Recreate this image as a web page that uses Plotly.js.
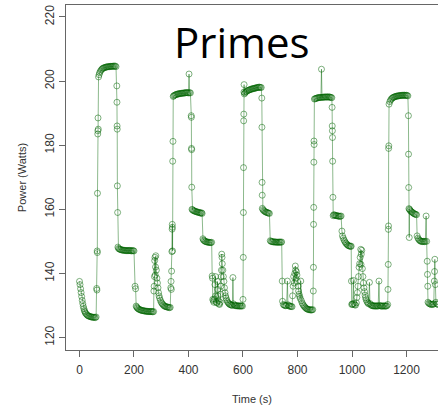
<!DOCTYPE html>
<html>
<head>
<meta charset="utf-8">
<script src="https://cdn.plot.ly/plotly-3.0.1.min.js"></script>
<style>html,body{margin:0;padding:0;background:#fff;}#chart{width:438px;height:405px;}</style>
</head>
<body>
<div id="chart"></div>
<script>
// [time (s), power (W)] samples, grouped by phase
const idleStart = [[0,137.5],[2,136.5],[4,135.2],[6,134],[8,132.8],[10,131.6],[12,130.6],[14,129.7],[16,129],[18,128.4],[20,128],[22,127.6],[25,127.3],[28,127],[31,126.8],[34,126.7],[37,126.6],[40,126.5],[43,126.4],[46,126.4],[49,126.3],[52,126.3],[55,126.3],[58,126.2],[61,126.4]];
const run1 = [[63,135.3],[64,134.8],[65,147],[65.5,146.5],[66,165],[67,183.5],[67.5,184.5],[68,188.5],[69,185],[70,201.3],[72,202],[74,202.6],[77,203.1],[80,203.5],[83,203.8],[86,204],[89,204.1],[92,204.2],[95,204.3],[98,204.4],[101,204.4],[104,204.5],[107,204.5],[110,204.5],[113,204.6],[116,204.6],[119,204.6],[122,204.6],[125,204.7],[128,204.6],[131,204.7],[134,204.5],[137,198.5],[137.5,193.4],[138,186],[138.5,185],[139,167.3],[140,159],[141,148.2],[143,147.8],[146,147.6],[149,147.5],[152,147.4],[155,147.3],[158,147.3],[161,147.2],[164,147.2],[167,147.2],[170,147.1],[173,147.1],[176,147.1],[179,147.1],[182,147.2],[185,147.1],[188,147.1],[191,147],[194,147.1],[197,147.1],[200,147],[204,136],[206,135.2],[208,129.8],[210,129.5],[212,129.2],[215,129],[218,128.8],[221,128.7],[224,128.6],[227,128.5],[230,128.4],[233,128.4],[236,128.3],[239,128.3],[242,128.2],[245,128.2],[248,128.2],[251,128.1],[254,128.1],[257,128.1],[260,128.1],[263,128.1],[266,128.1],[269,128],[272,128.1]];
const run2 = [[273,134.5],[274,136],[275,139],[276,144],[277,145],[278,139.5],[279,142],[280,145.5],[282,141],[284,138.5],[286,137],[288,135.5],[290,134],[292,133],[294,132.3],[297,131.6],[300,131],[303,130.6],[306,130.3],[309,130],[312,129.8],[315,129.7],[318,129.6],[321,129.5],[324,129.5],[327,129.4],[330,129.3],[333,129.4],[335,135.5],[336,137.5],[337,135],[338,140.7],[339,146.8],[340,153.8],[340.5,155.3],[341,154.4],[341.5,147],[342,175],[343,181.2],[344,195.2],[346,195.4],[349,195.6],[352,195.7],[355,195.8],[358,195.9],[361,196],[364,196],[367,196.1],[370,196.1],[373,196.2],[376,196.2],[379,196.2],[382,196.3],[385,196.3],[388,196.3],[391,196.4],[394,196.4],[397,196.4],[400,196.3],[402,202.2],[404,196.4],[407,196.3],[410,189.2],[410.5,188.7],[411,179],[411.5,178.6],[412,166.9],[413,160],[415,159.8],[418,159.6],[421,159.5],[424,159.4],[427,159.3],[430,159.2],[433,159.1],[436,159.1],[439,159],[442,158.9],[445,158.8],[448,158.9],[450,158.7],[453,150.8],[455,150.4],[458,150.2],[461,150],[464,149.9],[467,149.8],[470,149.8],[473,149.7],[476,149.7],[479,149.6],[482,149.6],[485,149.7],[487,139.2],[488,138.5],[489,131.9]];
const run3 = [[491,131.5],[493,131],[495,132],[497,136.5],[499,139],[500,133],[502,131],[504,130.8],[506,137.5],[507,135],[508,133],[510,131.5],[512,130.5],[514,130.3],[516,131],[518,133.5],[519,136],[520,139],[521,141],[522,146],[523,145],[524,143],[526,141],[528,139],[530,137.5],[532,135.5],[534,134],[536,133],[538,132.3],[540,131.7],[543,131.2],[546,130.8],[549,130.5],[552,130.3],[555,130.2],[558,130.1],[561,130],[563,138.7],[565,130.5],[568,130.1],[571,130],[574,129.9],[577,129.9],[580,129.9],[583,129.8],[586,129.9],[589,129.8],[592,129.8],[595,129.9],[598,129.8],[600,131.9],[601,145],[601.5,159],[602,173],[602.5,187.6],[603,189.7],[603.5,196.6],[604,198.9],[605,196],[607,196.3],[610,196.6],[613,196.8],[616,197],[619,197.1],[622,197.2],[625,197.3],[628,197.4],[631,197.5],[634,197.6],[637,197.6],[640,197.7],[643,197.8],[646,197.8],[649,197.9],[652,198],[655,198],[658,198.1],[661,198.1],[664,198],[667,198],[669,194.7],[669.5,185.6],[670,168.4],[670.5,164.4],[671,160.3],[673,159.9],[676,159.6],[679,159.4],[682,159.2],[685,159.1],[688,159],[691,158.9],[694,158.8],[697,158.7],[700,150.2],[703,150],[706,149.9],[709,149.9],[712,149.8],[715,149.8],[718,149.8],[721,149.8],[724,149.7],[727,149.7],[730,149.8],[733,149.7],[736,149.8],[739,149.7],[742,149.8]];
const run4 = [[744,137.6],[745,131.3],[748,130.3],[751,130.1],[754,130],[757,129.9],[760,130],[763,137.6],[765,130.2],[768,129.9],[771,129.8],[774,129.7],[777,129.7],[780,129.6],[782,133],[784,136],[786,139],[788,137],[790,140],[792,142.3],[793,141],[794,138.5],[796,140.5],[798,139.5],[800,137.5],[802,136],[804,134.5],[806,133.5],[808,132.8],[810,132.2],[812,137.6],[814,131.5],[817,130.8],[820,130.3],[823,129.9],[826,129.6],[829,129.3],[832,129.1],[835,128.9],[838,128.8],[841,128.7],[844,128.7],[847,128.6],[850,128.6],[853,128.6],[856,128.7],[858,134.5],[858.5,141.9],[859,155.3],[859.5,160.6],[860,174.7],[860.5,181.3],[861,180.2],[862,194.4],[865,194.5],[868,194.6],[871,194.7],[874,194.8],[877,194.8],[880,194.9],[883,194.9],[886,194.9],[888,203.7],[890,194.9],[893,195],[896,195],[899,195],[902,195],[905,195.1],[908,195],[911,195],[914,195.1],[917,195],[920,195],[923,194.9],[926,194.8],[927,191.8],[927.5,186],[928,184.5],[928.5,182.4],[929,175],[930,163.75],[931,158],[933,158.3],[936,158.2],[939,158.1],[942,158],[945,158],[948,157.9],[951,157.9],[954,157.8],[957,157.8],[960,157.9],[963,153.2],[965,151.7],[968,151],[971,150.4],[974,149.9],[977,149.5],[980,149.2],[983,148.9],[986,148.7],[989,148.6],[992,148.5],[995,148.4],[997,148.5]];
const run5 = [[998,137.6],[999,130.3],[1001,130.5],[1003,130.3],[1005,137.8],[1007,130.6],[1010,130.2],[1013,130.1],[1016,130.8],[1018,132.5],[1020,134],[1022,136],[1024,139],[1026,141.9],[1028,143],[1030,145],[1032,147.5],[1033,142.8],[1034,146],[1036,147.2],[1038,141.5],[1040,139],[1042,137],[1044,135.5],[1046,134.3],[1048,133.2],[1050,132.4],[1052,131.8],[1055,131.2],[1058,130.8],[1061,130.5],[1064,137.2],[1066,130.6],[1069,130.2],[1072,130],[1075,129.9],[1078,129.9],[1081,129.8],[1084,129.9],[1087,129.8],[1090,129.8],[1093,129.9],[1096,129.8],[1099,137.6],[1101,130],[1104,129.9],[1107,129.8],[1110,129.8],[1113,129.8],[1116,129.9],[1119,129.8],[1122,129.8],[1125,129.8],[1128,129.9],[1131,130.3],[1132,135],[1133,142.8],[1133.5,153.75],[1134,154.8],[1134.5,179],[1135,179.8],[1136,192.8],[1139,193.6],[1142,194.1],[1145,194.5],[1148,194.7],[1151,194.9],[1154,195],[1157,195.1],[1160,195.2],[1163,195.3],[1166,195.3],[1169,195.4],[1172,195.4],[1175,195.5],[1178,195.5],[1181,195.5],[1184,195.6],[1187,195.5],[1190,195.6],[1193,195.6],[1196,195.5],[1199,195.6],[1202,195.5],[1205,195.4],[1207,189.2],[1207.5,177.2],[1208,166.8],[1209,160.2],[1210,151.2],[1211,160],[1213,159.7],[1216,159.4],[1219,159.2],[1222,159],[1225,158.8],[1228,158.6],[1231,158.5],[1234,158.4],[1237,158.3],[1239,151.7],[1242,151],[1245,150.6],[1248,150.3],[1251,150.1],[1254,150],[1257,150],[1260,149.9],[1263,150],[1266,149.9],[1269,150],[1272,157.9],[1274,150],[1276,143.8],[1277,139.7],[1278,136],[1279,131],[1282,130.7],[1285,130.5],[1288,130.4],[1291,130.3],[1294,130.4],[1297,130.3],[1300,130.5],[1302,137.6],[1303,140.6],[1304,144.4],[1306,136.5],[1308,131],[1311,130.5],[1314,130.4],[1317,130.3]];

const xTicks = [0, 200, 400, 600, 800, 1000, 1200];
const yTicks = [120, 140, 160, 180, 200, 220];

const samples = [].concat(idleStart, run1, run2, run3, run4, run5);
const timeS = samples.map(d => d[0]);
const powerW = samples.map(d => d[1]);

const trace = {
  x: timeS, y: powerW, type: 'scatter', mode: 'lines+markers',
  line: {color: 'rgba(0,100,0,0.45)', width: 1},
  marker: {symbol: 'circle-open', size: 6, color: 'rgba(0,100,0,0.5)', line: {width: 1}},
  hoverinfo: 'skip'
};

const axisFont = {family: 'Liberation Sans, Arial, sans-serif', size: 12, color: '#333'};
const layout = {
  width: 438, height: 405,
  margin: {l: 66, r: 0, t: 5, b: 55},
  paper_bgcolor: '#fff', plot_bgcolor: '#fff',
  showlegend: false,
  xaxis: {
    range: [-49.5, 1315.6], tickvals: xTicks, ticktext: xTicks.map(String),
    showgrid: false, zeroline: false, showline: true, mirror: true,
    linecolor: '#666', linewidth: 1, ticks: 'outside', ticklen: 6, tickcolor: '#666',
    tickfont: axisFont, ticklabelstandoff: 3,
    title: {text: 'Time (s)', font: {family: 'Liberation Sans, Arial, sans-serif', size: 11, color: '#333'}, standoff: 19}
  },
  yaxis: {
    range: [116.1, 223.74], tickvals: yTicks, ticktext: yTicks.map(String),
    showgrid: false, zeroline: false, showline: true, mirror: false,
    linecolor: '#666', linewidth: 1, ticks: 'outside', ticklen: 6, tickcolor: '#666',
    tickangle: -90, tickfont: axisFont,
    title: {text: 'Power (Watts)', font: {family: 'Liberation Sans, Arial, sans-serif', size: 11, color: '#333'}, standoff: 14}
  },
  annotations: [{
    text: 'Primes', xref: 'paper', yref: 'paper', x: 0.473, y: 0.893, xanchor: 'center', yanchor: 'middle',
    showarrow: false, font: {family: 'Open Sans, sans-serif', size: 42, color: '#000'}
  }]
};

Plotly.newPlot('chart', [trace], layout, {displayModeBar: false, staticPlot: true});
</script>
</body>
</html>
